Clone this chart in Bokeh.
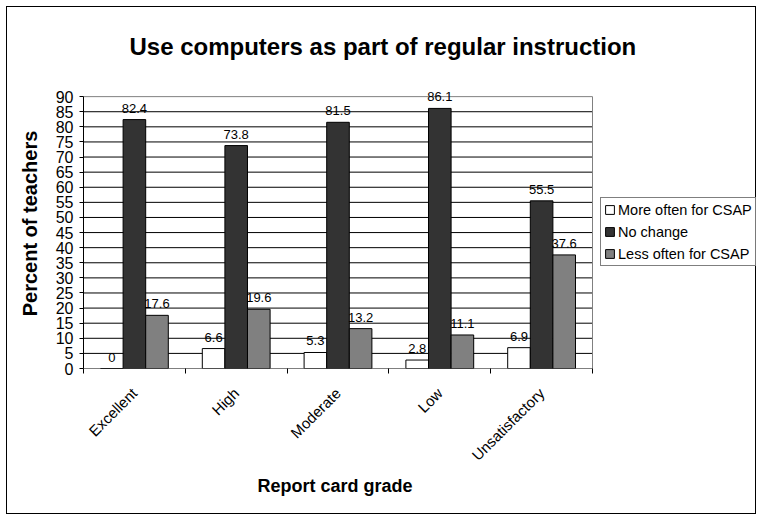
from bokeh.plotting import figure
from bokeh.models import (Range1d, LinearAxis, Legend, LegendItem,
                          FixedTicker, ColumnDataSource, Title)
from bokeh.transform import dodge
from bokeh.embed import file_html
from bokeh.resources import INLINE

grades = ["Excellent", "High", "Moderate", "Low", "Unsatisfactory"]
more_often = [0, 6.6, 5.3, 2.8, 6.9]
no_change = [82.4, 73.8, 81.5, 86.1, 55.5]
less_often = [17.6, 19.6, 13.2, 11.1, 37.6]
series_names = ["More often for CSAP", "No change", "Less often for CSAP"]
series_colors = ["#ffffff", "#333333", "#808080"]
y_ticks = list(range(0, 95, 5))

W, H = 750, 508
FONT = "Liberation Sans"
B_LEFT, B_RIGHT = 76, 1
PLOT_W = 509                      # width in px of the bar area (5 categories)
FRAME_W = W - B_LEFT - B_RIGHT    # frame also hosts the legend on its right
Y_MAX = 90
Y_VIEW_TOP = 96                   # headroom so labels above tall bars are not clipped

n = len(grades)
centers = [i + 0.5 for i in range(n)]
x_end = n * FRAME_W / PLOT_W

p = figure(x_range=Range1d(0, x_end), y_range=Range1d(0, Y_VIEW_TOP),
           width=W, height=H, output_backend="svg", toolbar_location=None,
           x_axis_location=None, y_axis_location=None,
           min_border_left=B_LEFT, min_border_right=B_RIGHT, min_border_top=71, min_border_bottom=147)
p.styles = {"border": "1px solid black", "margin-left": "6px", "margin-top": "6px"}

p.title = Title(text="Use computers as part of regular instruction", align="left",
                text_font=FONT, text_font_style="bold", text_font_size="24px",
                text_color="black", offset=46, standoff=37)

# grid lines and plot-area border
inner = [t for t in y_ticks if 0 < t < Y_MAX]
p.segment(x0=[0] * len(inner), x1=[n] * len(inner), y0=inner, y1=inner,
          line_color="black", line_width=1)
p.segment(x0=[0, n], x1=[n, n], y0=[Y_MAX, 0], y1=[Y_MAX, Y_MAX], line_color="#808080", line_width=1)
p.segment(x0=[0], x1=[n], y0=[0], y1=[0], line_color="black", line_width=1)

src = ColumnDataSource(dict(xc=centers, more=more_often, nochg=no_change, less=less_often,
                            more_t=[f"{v:g}" for v in more_often],
                            nochg_t=[f"{v:g}" for v in no_change],
                            less_t=[f"{v:g}" for v in less_often]))

bw = 0.222
renderers = []
for col, off, color in zip(["more", "nochg", "less"], [-bw, 0, bw], series_colors):
    r = p.vbar(x=dodge("xc", off), top=col, width=bw, source=src,
               fill_color=color, line_color="black", line_width=1)
    renderers.append(r)
    p.text(x=dodge("xc", off), y=col, text=col + "_t", source=src,
           text_align="center", text_baseline="bottom", y_offset=-7,
           text_font_size="13px", text_font={"value": FONT}, text_color="black")

# axes
yax = LinearAxis(ticker=FixedTicker(ticks=y_ticks), bounds=(0, Y_MAX))
yax.axis_label = "Percent of teachers"
yax.axis_label_text_font = FONT
yax.axis_label_text_font_style = "bold"
yax.axis_label_text_font_size = "20px"
yax.axis_label_text_color = "black"
yax.axis_label_standoff = 12
yax.major_label_text_font = FONT
yax.major_label_text_font_size = "16px"
yax.major_label_text_color = "black"
yax.major_label_standoff = 6
yax.major_tick_out = 4
yax.major_tick_in = 0
yax.minor_tick_line_color = None
yax.axis_line_color = "black"
p.add_layout(yax, "left")

tax = LinearAxis(ticker=FixedTicker(ticks=list(range(n + 1))))
tax.major_label_text_font_size = "0px"
tax.major_label_standoff = 0
tax.major_tick_out = 5
tax.major_tick_in = 0
tax.minor_tick_line_color = None
tax.axis_line_color = None
p.add_layout(tax, "below")

xax = LinearAxis(ticker=FixedTicker(ticks=centers),
                 major_label_overrides={c: g for c, g in zip(centers, grades)})
xax.axis_line_color = None
xax.major_tick_line_color = None
xax.minor_tick_line_color = None
xax.major_label_orientation = 0.7854
xax.major_label_text_font = FONT
xax.major_label_text_font_size = "15px"
xax.major_label_text_color = "black"
xax.major_label_standoff = 11
p.add_layout(xax, "below")

p.xgrid.grid_line_color = None
p.ygrid.grid_line_color = None
p.outline_line_color = None

legend = Legend(items=[LegendItem(label=s, renderers=[r]) for s, r in zip(series_names, renderers)],
                location=(517, 102), label_text_font=FONT, label_text_font_size="14.5px",
                label_text_color="black",
                glyph_width=11, glyph_height=11, label_standoff=3, spacing=5, padding=3,
                margin=0, border_line_color="black", border_line_width=1,
                label_height=17)
p.add_layout(legend, "center")

# x-axis title, centred under the bar area
xt = Title(text="Report card grade", align="left", text_font=FONT, text_font_style="bold",
           text_font_size="18px", text_color="black", offset=174, standoff=3)
p.add_layout(xt, "below")

open("out.html", "w").write(file_html(p, INLINE))
